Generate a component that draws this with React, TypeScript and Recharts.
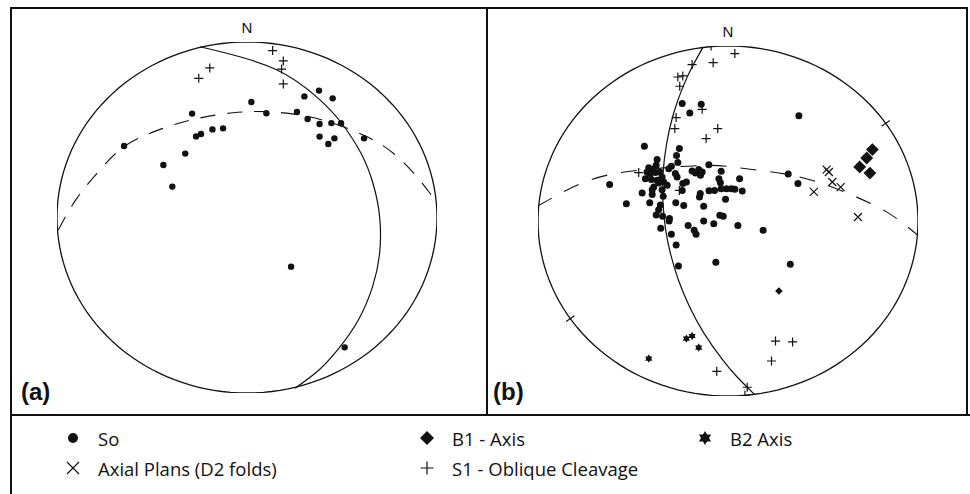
import { ComposedChart, Line, ReferenceDot, Scatter, XAxis, YAxis } from "recharts";

type Pt = { x: number; y: number };

// projection coords: primitive circle has radius 100, N is up
const primitive: Pt[] = Array.from({ length: 145 }, (_, i) => {
  const t = (i / 144) * 2 * Math.PI;
  return { x: 100 * Math.sin(t), y: 100 * Math.cos(t) };
});

// ---- stereonet (a)
const soA: Pt[] = [
  { x: -64.7, y: 40.7 }, { x: -44.0, y: 29.9 }, { x: -39.3, y: 17.6 }, { x: -32.5, y: 36.4 },
  { x: -28.9, y: 59.2 }, { x: -26.8, y: 46.2 }, { x: -24.2, y: 47.6 }, { x: -18.2, y: 50.2 },
  { x: -12.6, y: 50.8 }, { x: 2.3, y: 65.8 }, { x: 10.2, y: 59.4 }, { x: 26.3, y: 60.1 },
  { x: 30.2, y: 69.0 }, { x: 31.9, y: 56.1 }, { x: 37.9, y: 72.3 }, { x: 45.1, y: 67.9 },
  { x: 38.2, y: 53.3 }, { x: 44.4, y: 53.8 }, { x: 49.5, y: 53.7 }, { x: 38.2, y: 46.1 },
  { x: 46.0, y: 45.1 }, { x: 42.8, y: 41.9 }, { x: 61.6, y: 45.1 }, { x: 23.2, y: -28.0 },
  { x: 51.4, y: -74.0 },
];
const s1A: Pt[] = [
  { x: 13.5, y: 95.1 }, { x: 19.1, y: 89.2 }, { x: 18.2, y: 84.6 },
  { x: 19.1, y: 76.1 }, { x: -19.6, y: 85.2 }, { x: -25.4, y: 79.3 },
];
const planeA: Pt[] = [
  { x: -24.7, y: 97.3 }, { x: 14.7, y: 84.6 }, { x: 38.4, y: 67.0 }, { x: 49.8, y: 53.7 },
  { x: 60.0, y: 36.6 }, { x: 66.3, y: 19.5 }, { x: 69.8, y: 0.5 }, { x: 69.8, y: -20.4 },
  { x: 66.1, y: -39.4 }, { x: 58.6, y: -58.4 }, { x: 48.4, y: -74.5 }, { x: 37.9, y: -86.9 },
  { x: 25.3, y: -97.3 },
];
const girdleA: Pt[] = [
  { x: -99.3, y: -7.1 }, { x: -89.6, y: 10.9 }, { x: -77.4, y: 27.1 }, { x: -64.7, y: 40.4 },
  { x: -47.5, y: 49.5 }, { x: -28.2, y: 55.9 }, { x: -7.2, y: 59.7 }, { x: 10.4, y: 60.3 },
  { x: 27.9, y: 58.4 }, { x: 45.4, y: 53.7 }, { x: 63.0, y: 46.1 }, { x: 77.0, y: 36.6 },
  { x: 89.3, y: 23.3 }, { x: 98.9, y: 10.0 },
];

// ---- stereonet (b)
const soB: Pt[] = [
  { x: -24.1, y: 67.1 }, { x: -14.1, y: 66.7 }, { x: -20.1, y: 61.7 }, { x: 37.3, y: 60.2 },
  { x: -44.0, y: 42.7 }, { x: -25.6, y: 41.5 }, { x: -27.1, y: 37.5 }, { x: -26.4, y: 33.4 },
  { x: -37.3, y: 35.1 }, { x: -29.8, y: 31.3 }, { x: -31.2, y: 29.9 }, { x: -37.8, y: 31.8 },
  { x: -41.7, y: 30.5 }, { x: -39.9, y: 29.4 }, { x: -42.6, y: 28.0 }, { x: -38.2, y: 27.7 },
  { x: -35.9, y: 28.0 }, { x: -41.2, y: 26.7 }, { x: -43.5, y: 24.2 }, { x: -40.3, y: 23.7 },
  { x: -37.3, y: 23.3 }, { x: -34.7, y: 25.1 }, { x: -36.5, y: 21.7 }, { x: -33.8, y: 22.3 },
  { x: -32.0, y: 20.4 }, { x: -39.1, y: 19.4 }, { x: -39.9, y: 17.9 }, { x: -34.7, y: 17.9 },
  { x: -27.7, y: 27.1 }, { x: -26.8, y: 25.1 }, { x: -23.8, y: 21.4 }, { x: -21.9, y: 22.3 },
  { x: -24.1, y: 17.5 }, { x: -18.9, y: 28.6 }, { x: -17.1, y: 27.4 }, { x: -15.4, y: 29.4 },
  { x: -13.6, y: 28.0 }, { x: -14.5, y: 26.1 }, { x: -10.1, y: 32.2 }, { x: -62.3, y: 20.8 },
  { x: -45.2, y: 16.0 }, { x: -39.9, y: 15.1 }, { x: -34.1, y: 14.1 }, { x: -53.5, y: 9.9 },
  { x: -41.2, y: 10.5 }, { x: -35.6, y: 9.1 }, { x: -27.5, y: 10.5 }, { x: -23.3, y: 8.8 },
  { x: -15.0, y: 13.7 }, { x: -14.6, y: 15.7 }, { x: -10.0, y: 17.3 }, { x: -7.1, y: 17.5 },
  { x: -3.6, y: 18.5 }, { x: -0.8, y: 18.5 }, { x: 1.8, y: 18.5 }, { x: 3.6, y: 18.1 },
  { x: 7.5, y: 17.1 }, { x: -3.6, y: 28.4 }, { x: -4.8, y: 24.2 }, { x: -4.0, y: 21.9 },
  { x: 6.1, y: 24.2 }, { x: -1.3, y: 12.4 }, { x: -12.8, y: 8.4 }, { x: -36.5, y: 6.5 },
  { x: -37.8, y: 3.4 }, { x: -34.4, y: 2.7 }, { x: -30.8, y: 1.4 }, { x: -31.0, y: 0.0 },
  { x: -35.4, y: -4.2 }, { x: -29.8, y: -7.6 }, { x: -21.0, y: -2.5 }, { x: -17.8, y: -5.3 },
  { x: -16.8, y: -7.6 }, { x: -12.8, y: 0.0 }, { x: -7.5, y: -1.5 }, { x: -4.3, y: 3.3 },
  { x: -2.5, y: 2.7 }, { x: 5.2, y: -2.5 }, { x: 18.5, y: -5.3 }, { x: -27.3, y: -13.7 },
  { x: -26.1, y: -25.7 }, { x: -6.4, y: -23.6 }, { x: 32.8, y: -24.7 }, { x: 36.8, y: 21.5 },
  { x: 31.7, y: 26.9 },
];
const s1B: Pt[] = [
  { x: -8.9, y: 100.0 }, { x: 3.6, y: 95.7 }, { x: -7.8, y: 90.5 }, { x: -18.9, y: 89.4 },
  { x: -26.4, y: 82.3 }, { x: -23.8, y: 82.9 }, { x: -25.4, y: 77.0 }, { x: -13.6, y: 63.8 },
  { x: -27.3, y: 59.1 }, { x: -28.0, y: 52.8 }, { x: -5.4, y: 52.8 }, { x: -11.5, y: 47.1 },
  { x: -47.0, y: 27.7 }, { x: -25.6, y: 17.5 }, { x: 25.0, y: -68.6 }, { x: 34.0, y: -69.1 },
  { x: 22.9, y: -80.0 }, { x: -5.9, y: -85.9 }, { x: 10.1, y: -95.0 }, { x: 8.9, y: -99.6 },
];
const axialB: Pt[] = [
  { x: 51.9, y: 29.4 }, { x: 53.1, y: 28.0 }, { x: 54.9, y: 22.3 },
  { x: 59.3, y: 19.4 }, { x: 45.2, y: 16.6 }, { x: 68.4, y: 2.3 },
];
const b1B: Pt[] = [
  { x: 76.0, y: 40.8 }, { x: 73.0, y: 36.0 }, { x: 69.3, y: 30.9 }, { x: 74.7, y: 27.4 },
];
const b1BSingle: Pt[] = [{ x: 26.8, y: -40.0 }];
const b2B: Pt[] = [
  { x: -21.9, y: -67.2 }, { x: -18.9, y: -65.7 }, { x: -15.4, y: -72.3 }, { x: -41.7, y: -78.6 },
];
const primitiveTicksB: Pt[] = [{ x: 83.0, y: 55.8 }, { x: -83.0, y: -55.8 }];
const planeB: Pt[] = [
  { x: -13.1, y: 99.4 }, { x: -18.4, y: 89.0 }, { x: -23.4, y: 77.5 }, { x: -28.7, y: 61.3 },
  { x: -32.3, y: 44.2 }, { x: -34.2, y: 27.0 }, { x: -34.2, y: 9.9 }, { x: -32.8, y: -5.1 },
  { x: -30.3, y: -18.5 }, { x: -26.1, y: -33.7 }, { x: -20.3, y: -48.9 }, { x: -12.6, y: -64.2 },
  { x: -2.8, y: -79.4 }, { x: 4.7, y: -89.0 }, { x: 13.8, y: -99.0 },
];
const girdleB: Pt[] = [
  { x: -100.0, y: 8.6 }, { x: -91.7, y: 13.7 }, { x: -76.8, y: 21.7 }, { x: -60.1, y: 27.0 },
  { x: -44.3, y: 29.3 }, { x: -27.7, y: 30.9 }, { x: -10.1, y: 31.8 }, { x: 2.2, y: 30.9 },
  { x: 18.9, y: 28.6 }, { x: 35.6, y: 25.7 }, { x: 52.2, y: 20.4 }, { x: 68.0, y: 13.5 },
  { x: 83.0, y: 5.5 }, { x: 93.5, y: -2.5 }, { x: 100.0, y: -8.2 },
];

const legendTop = ["So", "B1 - Axis", "B2 Axis"];
const legendBottom = ["Axial Plans (D2 folds)", "S1 - Oblique Cleavage"];

const INK = "#111";
const FONT = "'Liberation Sans', Arial, sans-serif";

const dot = (r: number) => (p: any) => <circle cx={p.cx} cy={p.cy} r={r} fill={INK} />;
const plus = (s: number) => (p: any) => (
  <path d={`M${p.cx - s},${p.cy}H${p.cx + s}M${p.cx},${p.cy - s}V${p.cy + s}`} stroke={INK} strokeWidth={1.2} fill="none" />
);
const cross = (s: number) => (p: any) => (
  <path
    d={`M${p.cx - s},${p.cy - s}L${p.cx + s},${p.cy + s}M${p.cx - s},${p.cy + s}L${p.cx + s},${p.cy - s}`}
    stroke={INK} strokeWidth={1.2} fill="none"
  />
);
const diamond = (s: number) => (p: any) => (
  <path d={`M${p.cx},${p.cy - s}L${p.cx + s},${p.cy}L${p.cx},${p.cy + s}L${p.cx - s},${p.cy}Z`} fill={INK} />
);
const star = (r: number) => (p: any) => {
  const tri = (rot: number) =>
    [0, 1, 2]
      .map((k) => {
        const a = rot + (k * 2 * Math.PI) / 3;
        return `${p.cx + r * Math.sin(a)},${p.cy - r * Math.cos(a)}`;
      })
      .join(" ");
  return (
    <g fill={INK}>
      <polygon points={tri(0)} />
      <polygon points={tri(Math.PI)} />
    </g>
  );
};
// short radial tick across the primitive
const tick = (p: any) => {
  const a = Math.atan2(-p.payload.y, p.payload.x);
  const dx = Math.cos(a) * 5;
  const dy = Math.sin(a) * 5;
  return <line x1={p.cx - dx} y1={p.cy - dy} x2={p.cx + dx} y2={p.cy + dy} stroke={INK} strokeWidth={1.2} />;
};

const lineProps = { dataKey: "y", dot: false, activeDot: false, stroke: INK, isAnimationActive: false } as const;
const northLabel = { value: "N", position: "top", offset: 9, fill: INK, fontSize: 15, fontFamily: FONT } as const;

function NetA() {
  return (
    <ComposedChart width={476} height={407} margin={{ top: 34, right: 50, bottom: 22, left: 46 }}>
      <XAxis type="number" dataKey="x" domain={[-100, 100]} allowDataOverflow hide />
      <YAxis type="number" dataKey="y" domain={[-100, 100]} allowDataOverflow hide />
      <Line {...lineProps} data={primitive} type="linear" strokeWidth={1.3} />
      <Line {...lineProps} data={planeA} type="natural" strokeWidth={1.2} />
      <Line {...lineProps} data={girdleA} type="natural" strokeWidth={1.1} strokeDasharray="15 12" />
      <Scatter data={soA} shape={dot(3.2)} isAnimationActive={false} />
      <Scatter data={s1A} shape={plus(4.5)} isAnimationActive={false} />
      <ReferenceDot x={0} y={100} r={0} fill="none" stroke="none" label={northLabel} />
    </ComposedChart>
  );
}

function NetB() {
  return (
    <ComposedChart width={481} height={407} margin={{ top: 38, right: 50, bottom: 19, left: 51 }}>
      <XAxis type="number" dataKey="x" domain={[-100, 100]} allowDataOverflow hide />
      <YAxis type="number" dataKey="y" domain={[-100, 100]} allowDataOverflow hide />
      <Line {...lineProps} data={primitive} type="linear" strokeWidth={1.3} />
      <Line {...lineProps} data={planeB} type="natural" strokeWidth={1.2} />
      <Line {...lineProps} data={girdleB} type="natural" strokeWidth={1.1} strokeDasharray="16 14" />
      <Scatter data={primitiveTicksB} shape={tick} isAnimationActive={false} />
      <Scatter data={soB} shape={dot(3.5)} isAnimationActive={false} />
      <Scatter data={s1B} shape={plus(4.5)} isAnimationActive={false} />
      <Scatter data={axialB} shape={cross(4)} isAnimationActive={false} />
      <Scatter data={b1B} shape={diamond(6.4)} isAnimationActive={false} />
      <Scatter data={b1BSingle} shape={diamond(3.8)} isAnimationActive={false} />
      <Scatter data={b2B} shape={star(4.2)} isAnimationActive={false} />
      <ReferenceDot x={0} y={100} r={0} fill="none" stroke="none" label={northLabel} />
    </ComposedChart>
  );
}

const legendMarkers = [
  dot(5)({ cx: 0, cy: 0 }),
  diamond(7)({ cx: 0, cy: 0 }),
  star(7)({ cx: 0, cy: 0 }),
  cross(6)({ cx: 0, cy: 0 }),
  plus(6.5)({ cx: 0, cy: 0 }),
];

function LegendItem({ x, y, i, label }: { x: number; y: number; i: number; label: string }) {
  return (
    <div style={{ position: "absolute", left: x - 10, top: y - 10, display: "flex", alignItems: "center", height: 20 }}>
      <svg width={20} height={20} viewBox="-10 -10 20 20" style={{ display: "block" }}>
        {legendMarkers[i]}
      </svg>
      <span style={{ marginLeft: 15, fontSize: 18.5, fontFamily: "'Open Sans', sans-serif", color: INK, whiteSpace: "nowrap" }}>
        {label}
      </span>
    </div>
  );
}

export default function App() {
  const border = `2px solid ${INK}`;
  return (
    <div style={{ position: "relative", width: 970, height: 494, overflow: "hidden", background: "#fff", fontFamily: FONT }}>
      <style>{"body{margin:0}"}</style>
      <div style={{ position: "absolute", left: 11, top: 8 }}>
        <NetA />
      </div>
      <div style={{ position: "absolute", left: 487, top: 8 }}>
        <NetB />
      </div>
      <div style={{ position: "absolute", left: 10, top: 7, width: 478, height: 409, border, boxSizing: "border-box" }} />
      <div style={{ position: "absolute", left: 486, top: 7, width: 482, height: 409, border, boxSizing: "border-box" }} />
      <div style={{ position: "absolute", left: 10, top: 414, width: 970, height: 100, borderLeft: border, borderTop: border }} />
      <div style={{ position: "absolute", left: 21, top: 380, fontSize: 24, lineHeight: "24px", fontWeight: 700, color: INK }}>(a)</div>
      <div style={{ position: "absolute", left: 493, top: 380, fontSize: 24, lineHeight: "24px", fontWeight: 700, color: INK }}>(b)</div>
      <LegendItem x={73} y={438} i={0} label={legendTop[0]} />
      <LegendItem x={427} y={438} i={1} label={legendTop[1]} />
      <LegendItem x={705} y={438} i={2} label={legendTop[2]} />
      <LegendItem x={73} y={468} i={3} label={legendBottom[0]} />
      <LegendItem x={427} y={468} i={4} label={legendBottom[1]} />
    </div>
  );
}
